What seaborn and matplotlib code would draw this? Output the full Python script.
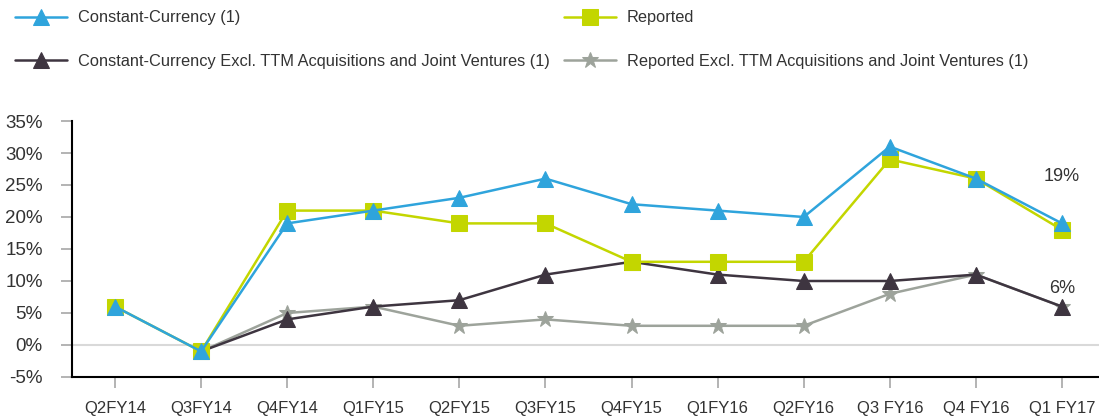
import numpy as np
import pandas as pd
import matplotlib
matplotlib.use("Agg")
import matplotlib.pyplot as plt
import seaborn as sns

categories = ["Q2FY14", "Q3FY14", "Q4FY14", "Q1FY15", "Q2FY15", "Q3FY15",
              "Q4FY15", "Q1FY16", "Q2FY16", "Q3 FY16", "Q4 FY16", "Q1 FY17"]
constant_currency = [6, -1, 19, 21, 23, 26, 22, 21, 20, 31, 26, 19]
reported = [6, -1, 21, 21, 19, 19, 13, 13, 13, 29, 26, 18]
cc_excl = [np.nan, -1, 4, 6, 7, 11, 13, 11, 10, 10, 11, 6]
reported_excl = [np.nan, -1, 5, 6, 3, 4, 3, 3, 3, 8, 11, 6]
yticks = [-5, 0, 5, 10, 15, 20, 25, 30, 35]

names = ["Constant-Currency (1)", "Reported",
         "Constant-Currency Excl. TTM Acquisitions and Joint Ventures (1)",
         "Reported Excl. TTM Acquisitions and Joint Ventures (1)"]
series = [constant_currency, reported, cc_excl, reported_excl]
colors = ["#2FA4DC", "#C3D600", "#3E3540", "#9DA39B"]
markers = ["^", "s", "^", "*"]
msizes = [11, 12, 11, 12]
zorders = [6, 5, 4, 3]

sns.set_theme(style="white")
plt.rcParams['font.family'] = ['Liberation Sans', 'DejaVu Sans']

fig = plt.figure(figsize=(10.99, 4.2), dpi=100)
ax = fig.add_axes([0.0655, 0.1024, 0.9345, 0.6095])

x = np.arange(len(categories))
for name, vals, c, m, ms, z in zip(names, series, colors, markers, msizes, zorders):
    df = pd.DataFrame({"x": x, "y": vals}).dropna()
    sns.lineplot(data=df, x="x", y="y", ax=ax, color=c, marker=m, markersize=ms,
                 markeredgecolor=c, linewidth=1.8, zorder=z, label=name, legend=False)

ax.axhline(0, color="#D9D9D9", linewidth=1.5, zorder=1)

ax.set_xlim(-0.5, 11.43)
ax.set_ylim(-5, 35)
ax.set_xticks(x)
ax.set_xticklabels(categories)
ax.set_yticks(yticks)
ax.set_yticklabels([f"{v}%" for v in yticks])
ax.set_xlabel("")
ax.set_ylabel("")
for s in ["top", "right"]:
    ax.spines[s].set_visible(False)
for s in ["left", "bottom"]:
    ax.spines[s].set_color("#000000")
    ax.spines[s].set_linewidth(1.5)
ax.tick_params(axis="y", which="major", left=True, length=8, color="#AAAAAA",
               labelsize=13.5, labelcolor="#333333", pad=13)
ax.tick_params(axis="x", which="major", bottom=True, length=8, color="#AAAAAA",
               labelsize=12, labelcolor="#333333", pad=9)

ax.text(11, 26.3, "19%", ha="center", va="center", fontsize=13, color="#333333")
ax.text(11, 8.9, "6%", ha="center", va="center", fontsize=13, color="#333333")

h, l = ax.get_legend_handles_labels()
lh = {lab: hh for hh, lab in zip(h, l)}
order = [names[0], names[2], names[1], names[3]]
hs = [lh[n] for n in order]
fig.legend(hs, order, loc="upper left", bbox_to_anchor=(0.0, 1.01), ncol=2,
           frameon=False, fontsize=11.75, handlelength=3.2, labelspacing=1.75,
           columnspacing=0.9, handletextpad=0.65, labelcolor="#333333")

fig.savefig("out.png", dpi=100)
